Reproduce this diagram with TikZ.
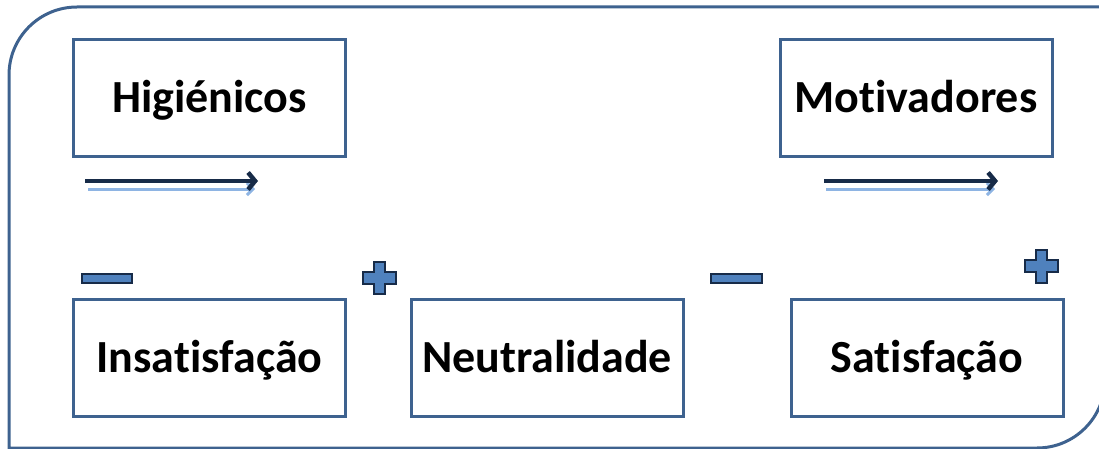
\documentclass[tikz,border=0pt]{standalone}
\usepackage{fontspec}
\setmainfont{Carlito}[Ligatures={NoCommon}]
\usetikzlibrary{arrows.meta}
\definecolor{frameblue}{RGB}{62,98,143}
\definecolor{navy}{RGB}{23,43,72}
\definecolor{lightblue}{RGB}{142,180,227}
\definecolor{midblue}{RGB}{79,129,189}
\tikzset{
  box/.style={draw=frameblue, line width=3pt, fill=white, minimum width=272pt, minimum height=117pt, inner sep=0pt, text height=29.6pt, text depth=0pt, font=\fontsize{46}{50}\selectfont\bfseries, text=black},
  darkarrow/.style={draw=navy, line width=4.5pt, -{Straight Barb[length=7pt,width=17pt]}},
  shadowarrow/.style={draw=lightblue, line width=3pt, -{Straight Barb[length=6pt,width=12pt]}},
  signshape/.style={draw=navy, line width=2.5pt, fill=midblue, line join=miter}
}
\begin{document}
\begin{tikzpicture}[x=1pt,y=-1pt]
\useasboundingbox (0,0) rectangle (1099,449);
\begin{scope}[y=1pt]
\clip (0,0) rectangle (1099,-449);
\draw[frameblue, line width=3pt]
  (9,-452) -- (9,-75) arc[start angle=180, end angle=90, radius=68] -- (1105,-7)
  -- (1105,-380) arc[start angle=0, end angle=-90, radius=68] -- (9,-448) -- cycle;
\end{scope}
% boxes
\node[box] (hig) at (209.5,98) {Higiénicos};
\node[box] (mot) at (916,98) {Motivadores};
\node[box] (ins) at (209.5,357.5) {Insatisfação};
\node[box] (neu) at (547,357.5) {Neutralidade};
\node[box] (sat) at (927,358) {Satisfação};
% arrows
\coordinate (a1s) at (88,189); \coordinate (a1e) at (255,189);
\coordinate (a1S) at (85,181); \coordinate (a1E) at (258,181);
\coordinate (a2s) at (826,189); \coordinate (a2e) at (995,189);
\coordinate (a2S) at (824,181); \coordinate (a2E) at (998,181);
\draw[shadowarrow] (a1s) -- (a1e);
\draw[darkarrow] (a1S) -- (a1E);
\draw[shadowarrow] (a2s) -- (a2e);
\draw[darkarrow] (a2S) -- (a2E);
% minus signs
\draw[signshape] (82,274) rectangle (132,283);
\draw[signshape] (711,274) rectangle (762,283);
% plus signs
\draw[signshape] (374,262) -- (385,262) -- (385,272) -- (396,272) -- (396,284) -- (385,284) -- (385,294) -- (374,294) -- (374,284) -- (363,284) -- (363,272) -- (374,272) -- cycle;
\draw[signshape] (1036,250) -- (1047,250) -- (1047,260) -- (1058,260) -- (1058,272) -- (1047,272) -- (1047,283) -- (1036,283) -- (1036,272) -- (1025,272) -- (1025,260) -- (1036,260) -- cycle;
\end{tikzpicture}
\end{document}
